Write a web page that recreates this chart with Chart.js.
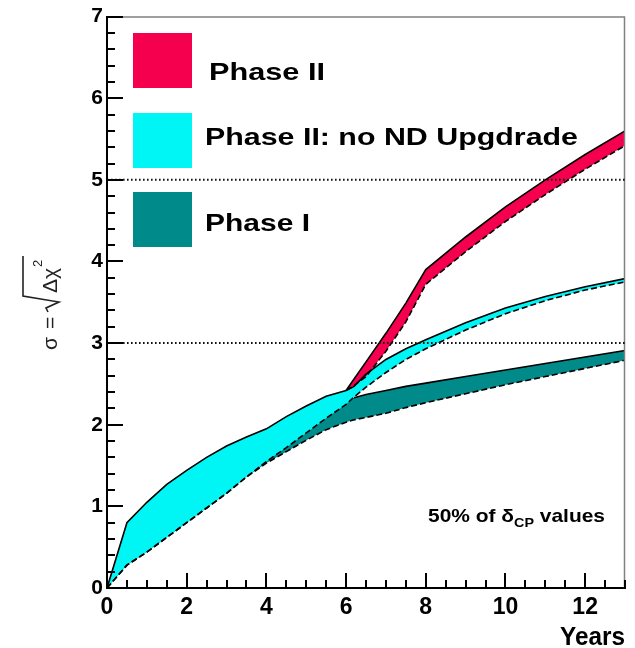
<!DOCTYPE html>
<html><head><meta charset="utf-8">
<script src="https://cdn.jsdelivr.net/npm/chart.js@4.4.0/dist/chart.umd.min.js"></script>
<style>html,body{margin:0;padding:0;background:#fff;}#wrap{width:635px;height:648px;position:relative;}</style>
</head><body><div id="wrap"><canvas id="c" width="635" height="648"></canvas></div>
<script>
// ---- data ----
const years      = [0,   0.5, 1,   1.5, 2,   2.5, 3,   3.5, 4,   4.5, 5,   5.5, 6,   6.2, 6.5, 7,   7.5, 8,   9,   10,  11,  12,  13];
const noNDUpper  = [0,   0.80,1.05,1.27,1.44,1.60,1.74,1.85,1.95,2.10,2.23,2.35,2.42,2.47,2.62,2.80,2.93,3.04,3.25,3.43,3.57,3.69,3.79];
const noNDLower  = [0,   0.28,0.44,0.62,0.80,0.98,1.16,1.36,1.55,1.72,1.90,2.08,2.25,2.34,2.46,2.64,2.80,2.93,3.16,3.36,3.52,3.65,3.75];
const phase2Upper= [null,null,null,null,null,null,null,null,null,null,null,null,2.42,2.56,2.77,3.12,3.49,3.90,4.30,4.67,5.00,5.31,5.60];
const phase2Lower= [null,null,null,null,null,null,null,null,null,null,null,null,2.42,2.48,2.59,2.90,3.26,3.72,4.12,4.49,4.82,5.13,5.42];
const phase1Upper= [0,   0.80,1.05,1.27,1.44,1.60,1.74,1.85,1.95,2.10,2.23,2.33,2.30,2.33,2.37,2.42,2.47,2.51,2.59,2.67,2.75,2.83,2.91];
const phase1Lower= [0,   0.28,0.44,0.62,0.80,0.98,1.16,1.36,1.53,1.67,1.81,1.94,2.03,2.06,2.09,2.14,2.21,2.27,2.38,2.49,2.59,2.69,2.79];
const phase1EdgeStart = 6.2;
const xTickValues = [0,2,4,6,8,10,12];
const yTickValues = [0,1,2,3,4,5,6,7];
const xMinorStep = 0.5, yMinorStep = 0.2;
const refLines = [3,5];
const legendLabels = ['Phase II','Phase II: no ND Upgdrade','Phase I'];
const noteText = ['50% of δ','CP',' values'];
const xTitle = 'Years';

const RED = '#f5004f', CYAN = '#00f5f5', TEAL = '#008a8a';
const pts = arr => years.map((x,i)=>({x:x, y:arr[i]}));
const phase1Edge = years.map((x,i)=>({x:x, y: x>=phase1EdgeStart ? phase1Upper[i] : null}));

const solid = {borderColor:'#000', borderWidth:1.6, pointRadius:0, tension:0};
const dashed = {borderColor:'#000', borderWidth:1.6, pointRadius:0, tension:0, borderDash:[6,3]};

function fitText(ctx, text, x, y, w, align){
  const m = ctx.measureText(text).width;
  ctx.save();
  ctx.translate(x, y);
  ctx.scale(w / m, 1);
  ctx.textAlign = align || 'left';
  ctx.fillText(text, 0, 0);
  ctx.restore();
}

const decor = {
  id:'decor',
  afterDraw(chart){
    const ctx = chart.ctx, a = chart.chartArea;
    const xs = chart.scales.x, ys = chart.scales.y;
    ctx.save();
    ctx.strokeStyle = '#808080'; ctx.lineWidth = 1.5;
    ctx.beginPath(); ctx.moveTo(a.left, a.top+0.5); ctx.lineTo(a.right-0.5, a.top+0.5); ctx.lineTo(a.right-0.5, a.bottom); ctx.stroke();
    ctx.strokeStyle = '#111'; ctx.lineWidth = 2; ctx.setLineDash([1.6,2.4]);
    refLines.forEach(v=>{const y = ys.getPixelForValue(v); ctx.beginPath(); ctx.moveTo(a.left, y); ctx.lineTo(a.right, y); ctx.stroke();});
    ctx.setLineDash([]);
    ctx.strokeStyle = '#000'; ctx.lineWidth = 2;
    for (let v = 0; v <= ys.max + 1e-9; v += yMinorStep){
      const major = Math.abs(v - Math.round(v)) < 1e-6;
      const y = Math.round(ys.getPixelForValue(v));
      ctx.beginPath(); ctx.moveTo(a.left, y); ctx.lineTo(a.left + (major?16:8), y); ctx.stroke();
    }
    for (let v = 0; v <= xs.max + 1e-9; v += xMinorStep){
      const major = Math.abs(v/2 - Math.round(v/2)) < 1e-6;
      const x = Math.round(xs.getPixelForValue(v));
      ctx.beginPath(); ctx.moveTo(x, a.bottom); ctx.lineTo(x, a.bottom - (major?15:8)); ctx.stroke();
    }
    const boxes = [[RED,33],[CYAN,113],[TEAL,192]];
    boxes.forEach(b=>{ctx.fillStyle=b[0]; ctx.fillRect(133, b[1], 59, 55);});
    ctx.fillStyle = '#000';
    ctx.font = 'bold 24px "Liberation Sans", Arial, sans-serif';
    ctx.textBaseline = 'alphabetic';
    fitText(ctx, legendLabels[0], 209, 80, 116);
    fitText(ctx, legendLabels[1], 205, 145, 373);
    fitText(ctx, legendLabels[2], 205, 231, 105);
    ctx.font = 'bold 19px "Liberation Sans", Arial, sans-serif';
    const w1 = ctx.measureText(noteText[0]).width, w3 = ctx.measureText(noteText[2]).width;
    ctx.font = 'bold 13px "Liberation Sans", Arial, sans-serif';
    const w2 = ctx.measureText(noteText[1]).width;
    const s = 177 / (w1 + w2 + w3);
    ctx.save(); ctx.translate(428, 522); ctx.scale(s, 1);
    ctx.font = 'bold 19px "Liberation Sans", Arial, sans-serif'; ctx.fillText(noteText[0], 0, 0);
    ctx.font = 'bold 13px "Liberation Sans", Arial, sans-serif'; ctx.fillText(noteText[1], w1, 5);
    ctx.font = 'bold 19px "Liberation Sans", Arial, sans-serif'; ctx.fillText(noteText[2], w1 + w2, 0);
    ctx.restore();
    ctx.font = 'bold 25px "Liberation Sans", Arial, sans-serif';
    fitText(ctx, xTitle, 625, 645, 65, 'right');
    ctx.save();
    ctx.translate(57, 356); ctx.rotate(-Math.PI/2);
    ctx.fillStyle = '#222'; ctx.strokeStyle = '#222';
    ctx.font = '21px "Liberation Sans", Arial, sans-serif';
    ctx.textAlign = 'left';
    ctx.fillText('σ', 6, 0);
    ctx.fillText('=', 27, 0);
    ctx.lineWidth = 1.6;
    ctx.beginPath();
    ctx.moveTo(44, -9); ctx.lineTo(48, -11); ctx.lineTo(54, 2); ctx.lineTo(60, -34); ctx.lineTo(100, -34);
    ctx.stroke();
    ctx.fillText('Δχ', 63, 0);
    ctx.font = '13px "Liberation Sans", Arial, sans-serif';
    ctx.fillText('2', 89, -15);
    ctx.restore();
    ctx.restore();
  }
};

new Chart(document.getElementById('c'), {
  type:'line',
  data:{datasets:[
    Object.assign({label:'Phase II upper', data:pts(phase2Upper), fill:'+1', backgroundColor:RED}, solid),
    Object.assign({label:'Phase II lower', data:pts(phase2Lower), fill:false}, dashed),
    Object.assign({label:'no ND upper', data:pts(noNDUpper), fill:'+1', backgroundColor:CYAN}, solid),
    Object.assign({label:'no ND lower', data:pts(noNDLower), fill:false}, dashed),
    {label:'Phase I fill', data:pts(phase1Upper), fill:'+1', backgroundColor:TEAL, borderWidth:0, pointRadius:0, tension:0},
    Object.assign({label:'Phase I lower', data:pts(phase1Lower), fill:false}, dashed),
    Object.assign({label:'Phase I upper', data:phase1Edge, fill:false}, solid)
  ]},
  options:{
    responsive:false, animation:false, devicePixelRatio:1,
    layout:{padding:{top:15,right:10,left:0,bottom:0}},
    plugins:{legend:{display:false}, tooltip:{enabled:false}, filler:{drawTime:'beforeDatasetsDraw'}},
    scales:{
      x:{type:'linear', min:0, max:13,
         afterBuildTicks:s=>{s.ticks = xTickValues.map(v=>({value:v}));},
         afterFit:s=>{s.height = 60;},
         grid:{display:false, drawTicks:false},
         border:{display:true, color:'#000', width:2},
         ticks:{padding:6, color:'#000', font:{family:'"Liberation Sans", Arial, sans-serif', size:23, weight:'bold'}, maxRotation:0, autoSkip:false}},
      y:{type:'linear', min:0, max:7,
         afterBuildTicks:s=>{s.ticks = yTickValues.map(v=>({value:v}));},
         afterFit:s=>{s.width = 107;},
         grid:{display:false, drawTicks:false},
         border:{display:true, color:'#000', width:2},
         ticks:{padding:4, color:'#000', font:{family:'"Liberation Sans", Arial, sans-serif', size:21, weight:'bold'}, autoSkip:false}}
    }
  },
  plugins:[decor]
});
</script></body></html>
